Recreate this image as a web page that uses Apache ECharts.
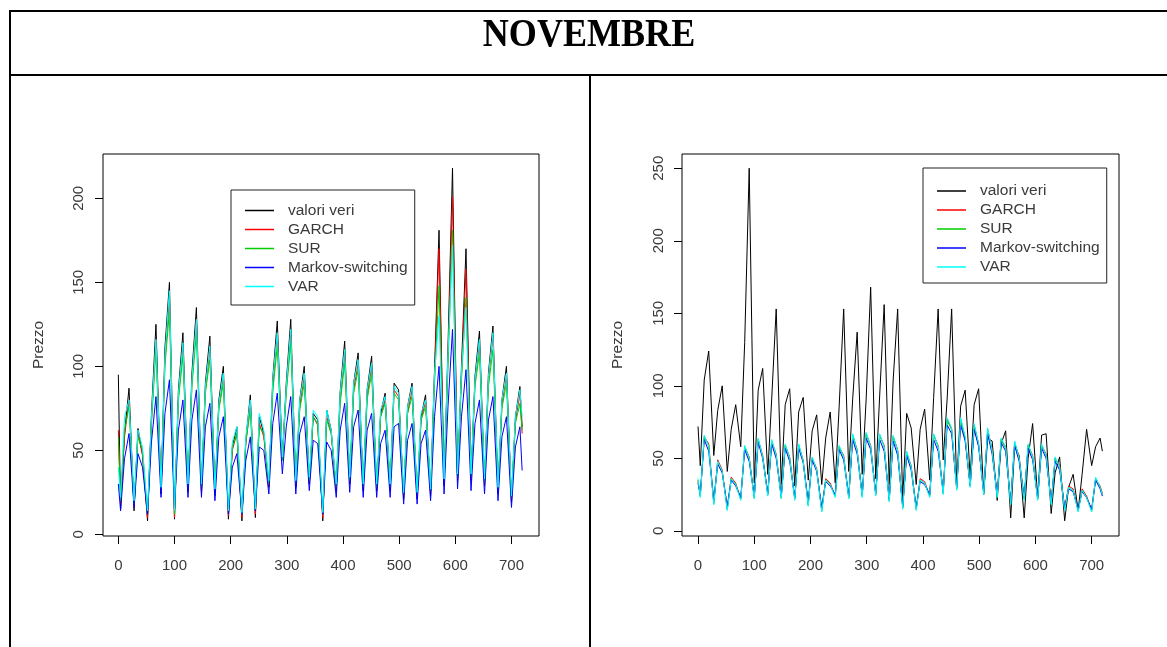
<!DOCTYPE html>
<html>
<head>
<meta charset="utf-8">
<title>NOVEMBRE</title>
<script src="https://cdn.jsdelivr.net/npm/echarts@6/dist/echarts.min.js"></script>
<style>
  html, body { margin: 0; padding: 0; background: #ffffff; }
  #chart { width: 1167px; height: 647px; }
</style>
</head>
<body>
<div id="chart"></div>
<script>
// Hourly prices for November (720 hours). Each list holds: the value at hour 0,
// then three readings per day (night low, late morning, evening), then the last hour.
const SAMPLE_HOURS = [4, 11, 19];
const LAST_HOUR = 719;

const seriesNames = ['valori veri', 'GARCH', 'SUR', 'Markov-switching', 'VAR'];
const seriesColors = ['#000000', '#ff0000', '#00cd00', '#0000ff', '#00ffff'];

const xTicks = [0, 100, 200, 300, 400, 500, 600, 700];
const yTicksLeft = [0, 50, 100, 150, 200];
const yTicksRight = [0, 50, 100, 150, 200, 250];

// ---- left panel ----
const leftVeri = [95,
  15, 60, 87,   14, 63, 48,   8, 72, 125,   24, 111, 150,  9, 86, 120,
  25, 96, 135,  25, 90, 118,  23, 80, 100,  9, 52, 64,     8, 56, 83,
  10, 70, 60,   28, 93, 127,  45, 90, 128,  28, 80, 100,   30, 72, 68,
  8, 74, 62,    26, 85, 115,  30, 90, 108,  26, 86, 106,   26, 72, 84,
  26, 90, 86,   21, 76, 90,   21, 70, 83,   23, 98, 181,   29, 112, 218,
  32, 100, 170, 32, 94, 121,  29, 96, 124,  24, 80, 100,   19, 70, 88,
  64];
const leftGarch = [62,
  18, 58, 80,   16, 60, 47,   10, 68, 116,  26, 104, 140,  10, 82, 112,
  27, 90, 128,  26, 86, 110,  24, 76, 94,   11, 50, 60,    10, 54, 78,
  12, 66, 58,   29, 88, 120,  44, 86, 120,  29, 76, 94,    31, 70, 65,
  10, 70, 60,   27, 80, 108,  31, 86, 102,  27, 82, 100,   27, 70, 80,
  27, 86, 82,   23, 72, 86,   22, 68, 79,   25, 94, 170,   30, 106, 201,
  33, 95, 158,  33, 90, 114,  30, 92, 118,  25, 77, 95,    21, 67, 84,
  60];
const leftSur = [58,
  20, 62, 76,   18, 58, 50,   12, 66, 110,  27, 100, 133,  12, 80, 106,
  28, 88, 120,  28, 84, 104,  26, 74, 90,   13, 52, 60,    12, 55, 74,
  14, 64, 60,   30, 85, 112,  44, 84, 114,  30, 74, 90,    32, 70, 66,
  12, 68, 60,   28, 78, 102,  32, 84, 98,   28, 80, 96,    28, 70, 78,
  28, 84, 80,   24, 72, 82,   24, 68, 76,   26, 90, 148,   31, 100, 181,
  34, 92, 141,  34, 88, 108,  31, 88, 110,  27, 75, 90,    22, 66, 78,
  62];
const leftMarkov = [30,
  14, 45, 60,   16, 48, 40,   12, 55, 82,   22, 72, 92,    14, 62, 80,
  22, 68, 86,   22, 64, 78,   20, 58, 70,   12, 40, 48,    12, 44, 58,
  14, 52, 50,   24, 66, 84,   36, 64, 82,   24, 60, 70,    26, 56, 54,
  12, 55, 50,   22, 62, 78,   25, 64, 74,   22, 62, 72,    22, 54, 62,
  22, 64, 66,   18, 56, 66,   18, 54, 62,   20, 70, 100,   24, 76, 122,
  27, 70, 98,   26, 66, 80,   24, 68, 82,   20, 58, 70,    16, 52, 64,
  38];
const leftVar = [40,
  22, 70, 80,   20, 62, 52,   14, 70, 116,  28, 106, 145,  14, 84, 114,
  30, 92, 128,  30, 88, 112,  27, 78, 96,   14, 55, 64,    13, 58, 80,
  15, 72, 62,   32, 92, 120,  46, 88, 122,  32, 80, 96,    34, 74, 70,
  13, 74, 62,   30, 84, 110,  34, 90, 104,  30, 86, 102,   30, 74, 82,
  30, 88, 84,   25, 76, 88,   25, 72, 80,   27, 96, 130,   33, 108, 172,
  36, 98, 135,  36, 92, 116,  33, 94, 120,  28, 80, 96,    23, 70, 86,
  70];

// ---- right panel ----
const rightVeri = [72,
  45, 104, 124, 52, 83, 100,  41, 70, 87,   58, 130, 250,  33, 97, 112,
  39, 91, 153,  32, 87, 98,   31, 82, 92,   35, 69, 80,    32, 64, 82,
  33, 86, 153,  41, 91, 137,  39, 91, 168,  36, 93, 156,   32, 104, 153,
  21, 81, 71,   32, 70, 84,   35, 92, 153,  49, 91, 153,   32, 86, 97,
  37, 87, 98,   25, 64, 62,   21, 60, 69,   9, 58, 52,     9, 50, 74,
  23, 66, 67,   12, 40, 51,   7, 30, 39,    14, 39, 70,    45, 58, 64,
  55];
const rightGarch = [35,
  24, 65, 60,   19, 49, 42,   15, 37, 33,   22, 58, 51,    23, 63, 52,
  25, 62, 53,   23, 59, 51,   22, 59, 49,   18, 50, 43,    14, 36, 33,
  24, 58, 52,   23, 66, 56,   24, 67, 59,   25, 66, 59,    21, 65, 56,
  16, 54, 45,   15, 36, 34,   24, 66, 59,   26, 77, 70,    29, 77, 64,
  31, 73, 60,   26, 70, 56,   24, 63, 58,   19, 61, 51,    22, 59, 52,
  22, 59, 53,   19, 50, 45,   15, 31, 29,   14, 29, 24,    14, 36, 31,
  26];
const rightSur = [34,
  24, 64, 59,   19, 47, 41,   15, 36, 32,   22, 58, 50,    23, 63, 51,
  25, 62, 52,   23, 59, 50,   22, 59, 48,   18, 50, 42,    14, 35, 32,
  24, 58, 51,   23, 66, 55,   24, 67, 58,   25, 66, 58,    21, 65, 55,
  16, 54, 44,   15, 35, 33,   24, 66, 58,   26, 76, 70,    29, 76, 64,
  31, 72, 59,   26, 69, 55,   24, 63, 57,   19, 61, 50,    22, 59, 51,
  22, 59, 52,   19, 50, 44,   15, 30, 28,   14, 28, 23,    14, 36, 30,
  25];
const rightMarkov = [33,
  25, 63, 55,   21, 46, 40,   17, 35, 31,   23, 56, 48,    24, 61, 50,
  26, 60, 50,   24, 57, 48,   23, 57, 47,   20, 49, 41,    16, 34, 31,
  25, 56, 49,   24, 63, 53,   25, 64, 56,   26, 63, 55,    22, 62, 52,
  17, 52, 42,   16, 34, 32,   25, 63, 55,   27, 73, 67,    30, 73, 62,
  31, 70, 58,   27, 67, 53,   25, 61, 55,   20, 59, 48,    23, 57, 49,
  23, 57, 50,   20, 48, 42,   16, 29, 27,   15, 27, 23,    15, 35, 29,
  24];
const rightVar = [36,
  23, 66, 58,   18, 48, 41,   14, 36, 32,   21, 59, 50,    22, 64, 51,
  24, 63, 52,   22, 60, 50,   21, 60, 48,   17, 51, 42,    13, 35, 32,
  23, 59, 51,   22, 67, 55,   23, 68, 58,   24, 67, 58,    20, 66, 55,
  15, 55, 44,   14, 35, 33,   23, 67, 58,   25, 78, 71,    28, 78, 65,
  30, 74, 60,   25, 71, 55,   23, 64, 58,   18, 62, 50,    21, 60, 51,
  21, 60, 52,   18, 51, 44,   14, 30, 28,   13, 28, 23,    13, 37, 30,
  25];

// pair each reading with its hour index
function toPoints(values) {
  const pts = [[0, values[0]]];
  for (let i = 1; i < values.length - 1; i++) {
    const day = Math.floor((i - 1) / SAMPLE_HOURS.length);
    pts.push([day * 24 + SAMPLE_HOURS[(i - 1) % SAMPLE_HOURS.length], values[i]]);
  }
  pts.push([LAST_HOUR, values[values.length - 1]]);
  return pts;
}

const panels = [
  [leftVeri, leftGarch, leftSur, leftMarkov, leftVar],
  [rightVeri, rightGarch, rightSur, rightMarkov, rightVar]
];

const TEXT = '#3a3a3a';
const FONT = 'Liberation Sans, Arial, sans-serif';

function xAxisFor(gridIndex, min, max) {
  return {
    type: 'value', gridIndex, min, max, position: 'bottom',
    splitLine: { show: false },
    axisLine: { show: false, onZero: false },
    axisTick: { show: true, length: 8, lineStyle: { color: '#000', width: 1 }, customValues: xTicks },
    axisLabel: { color: TEXT, fontSize: 15, fontFamily: FONT, margin: 22, customValues: xTicks }
  };
}
function yAxisFor(gridIndex, min, max, ticks, margin) {
  return {
    type: 'value', gridIndex, min, max, position: 'left',
    name: 'Prezzo', nameLocation: 'middle', nameGap: 56,
    nameTextStyle: { color: TEXT, fontSize: 15.5, fontFamily: FONT },
    splitLine: { show: false },
    axisLine: { show: false, onZero: false },
    axisTick: { show: true, length: 8, lineStyle: { color: '#000', width: 1 }, customValues: ticks },
    axisLabel: { color: TEXT, fontSize: 15, fontFamily: FONT, rotate: 90, margin, customValues: ticks }
  };
}
function legendAt(left, top, pad) {
  return {
    orient: 'vertical', left, top,
    data: seriesNames,
    icon: 'rect', itemWidth: 29, itemHeight: 1.5, itemGap: 0,
    selectedMode: false,
    padding: pad,
    borderColor: '#222', borderWidth: 1, borderRadius: 0,
    backgroundColor: '#ffffff',
    textStyle: { color: TEXT, fontSize: 15.5, lineHeight: 19, fontFamily: FONT, padding: [0, 0, 0, 9] }
  };
}

const series = [];
panels.forEach((lists, p) => {
  lists.forEach((vals, k) => {
    series.push({
      type: 'line', name: seriesNames[k],
      xAxisIndex: p, yAxisIndex: p,
      data: toPoints(vals),
      showSymbol: false, symbol: 'none',
      color: seriesColors[k],
      lineStyle: { color: seriesColors[k], width: 1 },
      emphasis: { disabled: true },
      z: 2
    });
  });
});

const chart = echarts.init(document.getElementById('chart'), null, { renderer: 'canvas' });
chart.setOption({
  animation: false,
  backgroundColor: '#ffffff',
  grid: [
    { left: 103, top: 154, width: 436, height: 382, show: true, borderColor: '#000', borderWidth: 1, backgroundColor: 'transparent' },
    { left: 682, top: 154, width: 437, height: 382, show: true, borderColor: '#000', borderWidth: 1, backgroundColor: 'transparent' }
  ],
  xAxis: [xAxisFor(0, -27.3, 749), xAxisFor(1, -28.5, 748.6)],
  yAxis: [yAxisFor(0, -1, 226.4, yTicksLeft, 17), yAxisFor(1, -3.5, 259.8, yTicksRight, 16)],
  legend: [
    legendAt(231, 190, [11, 7, 9, 14]),
    legendAt(923, 168, [13.5, 7, 6.5, 14])
  ],
  series,
  graphic: [
    { type: 'line', shape: { x1: 10, y1: 11, x2: 1167, y2: 11 }, style: { stroke: '#000', lineWidth: 2 }, silent: true },
    { type: 'line', shape: { x1: 10, y1: 75, x2: 1167, y2: 75 }, style: { stroke: '#000', lineWidth: 2 }, silent: true },
    { type: 'line', shape: { x1: 10, y1: 10, x2: 10, y2: 647 }, style: { stroke: '#000', lineWidth: 2 }, silent: true },
    { type: 'line', shape: { x1: 590, y1: 75, x2: 590, y2: 647 }, style: { stroke: '#000', lineWidth: 2 }, silent: true },
    {
      type: 'text', x: 589, y: 35, scaleX: 0.88, silent: true,
      style: {
        text: 'NOVEMBRE', x: 0, y: 0, align: 'center', verticalAlign: 'middle',
        fill: '#000', fontSize: 41, fontWeight: 'bold', fontFamily: 'Liberation Serif, Times New Roman, serif'
      }
    }
  ]
});
</script>
</body>
</html>
